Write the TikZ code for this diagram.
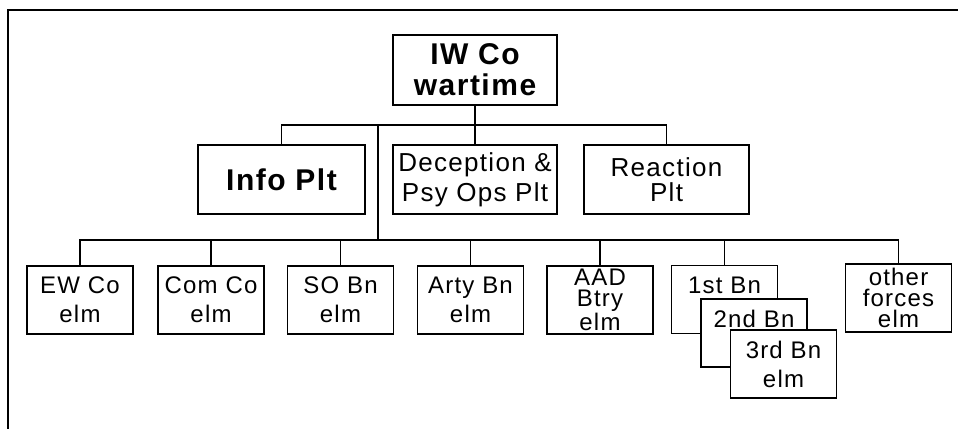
\documentclass[tikz,border=0pt]{standalone}
\usepackage{fontspec}
\setmainfont{Liberation Sans}[LetterSpace=5]
\begin{document}
\begin{tikzpicture}[x=1pt,y=-1pt,
    unit/.style={draw,line width=1.6pt,align=center,inner sep=0pt,fill=white},
    big/.style={unit,font=\fontsize{30}{31}\selectfont\bfseries},
    plt/.style={unit,minimum height=69pt,font=\fontsize{26}{30}\selectfont},
    elm/.style={unit,minimum width=106pt,minimum height=68pt,font=\fontsize{24}{29}\selectfont},
    link/.style={line width=1.2pt}]
      \useasboundingbox (0,0) rectangle (958,429);
      \draw[line width=2pt] (958,10) -- (8,10) -- (8,429);
      % top and platoons
      \node[big,minimum width=164pt,minimum height=70pt] (iwco) at (475,70) {IW Co\\wartime};
      \node[big,minimum width=167pt,minimum height=69pt] (info) at (281.5,179.5) {Info\ Plt};
      \node[plt,minimum width=164pt] (decep) at (475,179.5) {Deception \&\\Psy Ops Plt};
      \node[plt,minimum width=165pt,font=\fontsize{26}{25}\selectfont] (react) at (666.5,179.5) {Reaction\\Plt};
      % elements
      \node[elm] (ewco) at (80,300) {EW Co\\elm};
      \node[elm] (comco) at (211,300) {Com Co\\elm};
      \node[elm] (sobn) at (340.5,300) {SO Bn\\elm};
      \node[elm] (arty) at (470.5,300) {Arty Bn\\elm};
      \node[elm,font=\fontsize{24}{21}\selectfont] (aad) at (600,300) {AAD\\Btry\\elm};
      \node[elm] (bn1) at (724.5,299.5) {1st Bn\\\phantom{elm}};
      \node[elm] (bn2) at (754,333) {2nd Bn\\\phantom{elm}};
      \node[elm] (bn3) at (783.5,364) {3rd Bn\\elm};
      \node[elm,font=\fontsize{24}{21}\selectfont] (other) at (898.5,298) {other\\forces\\elm};
      % lines
      \coordinate (topbus) at (378,125);
      \coordinate (lowbus) at (378,240);
      \draw[link] (iwco.south) -- (decep.north);
      \draw[link] (info.north) |- (topbus) -| (react.north);
      \draw[line width=2pt] (topbus) -- (lowbus);
      \draw[link] (ewco.north) |- (lowbus) -| (other.north);
      \draw[link] (comco.north) -- (comco.north |- lowbus);
      \draw[link] (sobn.north) -- (sobn.north |- lowbus);
      \draw[link] (arty.north) -- (arty.north |- lowbus);
      \draw[link] (aad.north) -- (aad.north |- lowbus);
      \draw[link] (bn1.north) -- (bn1.north |- lowbus);
\end{tikzpicture}
\end{document}
